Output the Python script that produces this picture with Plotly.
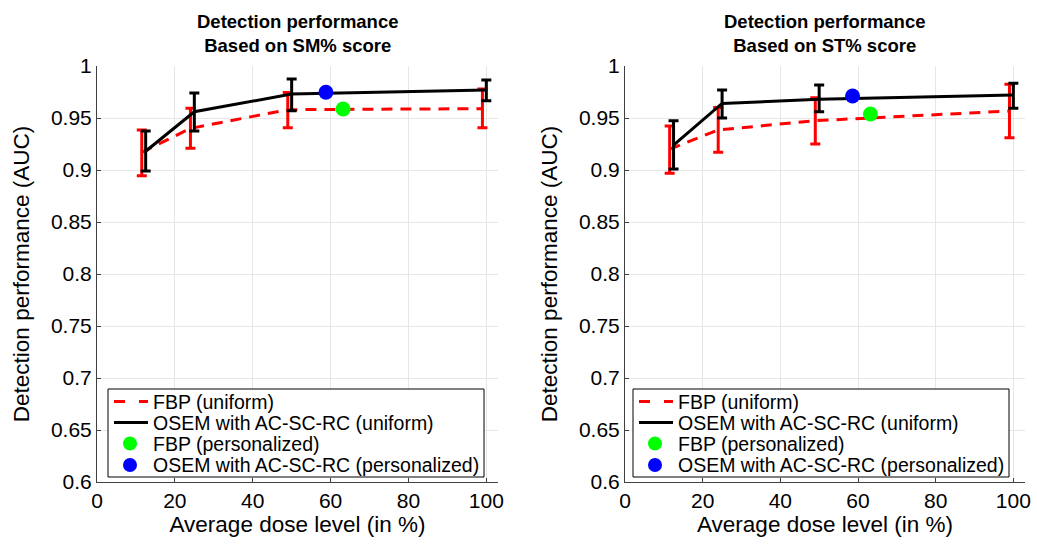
import plotly.graph_objects as go

# ---------------- data ----------------
dose_osem = [12.5, 25, 50, 100]
dose_fbp = [11.5, 24, 49, 99]

# SM% score panel
sm_osem = [0.918, 0.956, 0.973, 0.977]
sm_osem_hi = [0.9375, 0.974, 0.9875, 0.9865]
sm_osem_lo = [0.899, 0.9375, 0.957, 0.9665]
sm_fbp = [0.917, 0.940, 0.958, 0.959]
sm_fbp_hi = [0.9385, 0.9593, 0.9744, 0.978]
sm_fbp_lo = [0.8945, 0.921, 0.9407, 0.9407]
sm_fbp_pers_x, sm_fbp_pers_y = [63.2], [0.9587]
sm_osem_pers_x, sm_osem_pers_y = [58.8], [0.9747]

# ST% score panel
st_osem = [0.924, 0.964, 0.968, 0.972]
st_osem_hi = [0.9474, 0.977, 0.9817, 0.9833]
st_osem_lo = [0.901, 0.950, 0.956, 0.9593]
st_fbp = [0.920, 0.9385, 0.9474, 0.9567]
st_fbp_hi = [0.9423, 0.960, 0.9695, 0.9824]
st_fbp_lo = [0.8968, 0.917, 0.925, 0.931]
st_fbp_pers_x, st_fbp_pers_y = [63.2], [0.9538]
st_osem_pers_x, st_osem_pers_y = [58.6], [0.9712]

titles = ["Detection performance<br>Based on SM% score",
          "Detection performance<br>Based on ST% score"]
names = ["FBP (uniform)", "OSEM with AC-SC-RC (uniform)",
         "FBP (personalized)", "OSEM with AC-SC-RC (personalized)"]
colors = ["#ff0000", "#000000", "#00ff00", "#0000ff"]
xticks = [0, 20, 40, 60, 80, 100]
yticks = [0.6, 0.65, 0.7, 0.75, 0.8, 0.85, 0.9, 0.95, 1.0]
yticktext = ["0.6", "0.65", "0.7", "0.75", "0.8", "0.85", "0.9", "0.95", "1"]

FONT = "Arial, Liberation Sans, sans-serif"
W, H = 1037, 546


def px_x(p):
    return p / W


def px_y(p):
    return 1 - p / H


fig = go.Figure()

panels = [
    (sm_fbp, sm_fbp_hi, sm_fbp_lo, sm_osem, sm_osem_hi, sm_osem_lo,
     sm_fbp_pers_x, sm_fbp_pers_y, sm_osem_pers_x, sm_osem_pers_y),
    (st_fbp, st_fbp_hi, st_fbp_lo, st_osem, st_osem_hi, st_osem_lo,
     st_fbp_pers_x, st_fbp_pers_y, st_osem_pers_x, st_osem_pers_y),
]

for i, (fb, fbh, fbl, os_, osh, osl, fpx, fpy, opx, opy) in enumerate(panels):
    xa = "x" if i == 0 else "x2"
    ya = "y" if i == 0 else "y2"
    fig.add_trace(go.Scatter(
        x=dose_fbp, y=fb, mode="lines", name=names[0], xaxis=xa, yaxis=ya,
        line=dict(color=colors[0], width=3, dash="11px,8px"),
        error_y=dict(type="data", symmetric=False,
                     array=[h - v for h, v in zip(fbh, fb)],
                     arrayminus=[v - l for v, l in zip(fb, fbl)],
                     color=colors[0], thickness=3, width=5)))
    fig.add_trace(go.Scatter(
        x=dose_osem, y=os_, mode="lines", name=names[1], xaxis=xa, yaxis=ya,
        line=dict(color=colors[1], width=3),
        error_y=dict(type="data", symmetric=False,
                     array=[h - v for h, v in zip(osh, os_)],
                     arrayminus=[v - l for v, l in zip(os_, osl)],
                     color=colors[1], thickness=3, width=5)))
    fig.add_trace(go.Scatter(
        x=fpx, y=fpy, mode="markers", name=names[2], xaxis=xa, yaxis=ya,
        marker=dict(color=colors[2], size=15)))
    fig.add_trace(go.Scatter(
        x=opx, y=opy, mode="markers", name=names[3], xaxis=xa, yaxis=ya,
        marker=dict(color=colors[3], size=15)))

dom_y = [px_y(482), px_y(66)]
dom_x1 = [px_x(97), px_x(498)]
dom_x2 = [px_x(625), px_x(1025)]

axis_common = dict(showgrid=True, gridcolor="#e6e6e6", gridwidth=1, zeroline=False,
                   showline=True, linecolor="#404040", linewidth=1,
                   ticks="inside", ticklen=4, tickcolor="#404040",
                   tickfont=dict(family=FONT, size=21, color="#000"),
                   ticklabeloverflow="allow", automargin=False)

xa_common = dict(axis_common, range=[0, 103], tickvals=xticks,
                 title=dict(text="Average dose level (in %)", standoff=2,
                            font=dict(family=FONT, size=22.5, color="#000")))
ya_common = dict(axis_common, range=[0.6, 1.0], tickvals=yticks, ticktext=yticktext,
                 title=dict(text="Detection performance (AUC)",
                            font=dict(family=FONT, size=22.5, color="#000")))

fig.update_layout(
    width=W, height=H,
    margin=dict(l=0, r=0, t=0, b=0),
    paper_bgcolor="white", plot_bgcolor="white",
    font=dict(family=FONT, color="#000"),
    xaxis=dict(xa_common, domain=dom_x1, anchor="y"),
    yaxis=dict(ya_common, domain=dom_y, anchor="x"),
    xaxis2=dict(xa_common, domain=dom_x2, anchor="y2"),
    yaxis2=dict(ya_common, domain=dom_y, anchor="x2"),
    showlegend=False,
)

# titles
for i, t in enumerate(titles):
    cx = (dom_x1[0] + dom_x1[1]) / 2 if i == 0 else (dom_x2[0] + dom_x2[1]) / 2
    fig.add_annotation(x=cx, y=px_y(9), xref="paper", yref="paper",
                       xanchor="center", yanchor="top", showarrow=False,
                       text="<b>" + t + "</b>",
                       font=dict(family=FONT, size=18.5, color="#000"))

# boxed legends (one per panel), drawn in page pixels
row_y = [401.5, 422.5, 443.5, 465]
for lx in (108, 633):
    fig.add_shape(type="rect", xref="paper", yref="paper", layer="above",
                  x0=px_x(lx), x1=px_x(lx + 376), y0=px_y(389), y1=px_y(477),
                  line=dict(color="#000", width=1), fillcolor="white")
    # dashed red sample
    for a, b in ((lx + 6, lx + 17), (lx + 31, lx + 40)):
        fig.add_shape(type="line", xref="paper", yref="paper", layer="above",
                      x0=px_x(a), x1=px_x(b), y0=px_y(row_y[0]), y1=px_y(row_y[0]),
                      line=dict(color=colors[0], width=3))
    # solid black sample
    fig.add_shape(type="line", xref="paper", yref="paper", layer="above",
                  x0=px_x(lx + 6), x1=px_x(lx + 40), y0=px_y(row_y[1]), y1=px_y(row_y[1]),
                  line=dict(color=colors[1], width=3))
    # marker samples
    for k in (2, 3):
        fig.add_shape(type="circle", xref="paper", yref="paper", layer="above",
                      xsizemode="pixel", ysizemode="pixel",
                      xanchor=px_x(lx + 22), yanchor=px_y(row_y[k]),
                      x0=-7, x1=7, y0=-7, y1=7,
                      line=dict(width=0), fillcolor=colors[k])
    for k in range(4):
        fig.add_annotation(x=px_x(lx + 43), y=px_y(row_y[k]), xref="paper", yref="paper",
                           xanchor="left", yanchor="middle", showarrow=False,
                           text=names[k], font=dict(family=FONT, size=19.5, color="#000"))

# remove the default 8px page margin so the figure fills the window exactly
fig.write_html("out.html", config={"displayModeBar": False},
               post_script="document.body.style.margin='0';document.body.style.overflow='hidden';")
